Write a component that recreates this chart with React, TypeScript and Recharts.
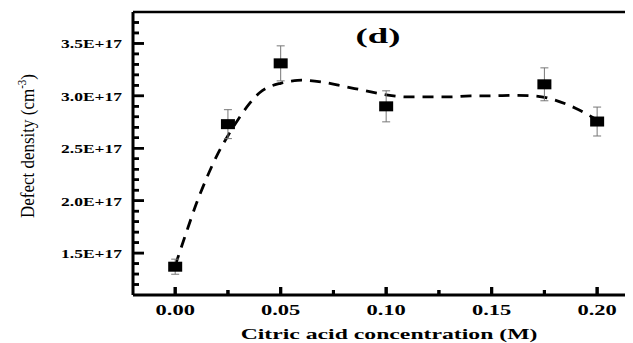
import React from 'react';
import {
  ComposedChart,
  Line,
  Scatter,
  ErrorBar,
  XAxis,
  YAxis,
  ReferenceLine,
} from 'recharts';

// values are in units of 1E+17 cm^-3
const concentrations = [0, 0.025, 0.05, 0.1, 0.175, 0.2];
const defectDensity = [1.37, 2.73, 3.31, 2.9, 3.11, 2.755];
const defectError = [0.072, 0.138, 0.167, 0.148, 0.157, 0.138];

// dashed guide curve
const curveX = [
  0, 0.005, 0.01, 0.015, 0.02, 0.025, 0.03, 0.035, 0.04, 0.045, 0.05, 0.055,
  0.06, 0.07, 0.08, 0.09, 0.1, 0.11, 0.12, 0.13, 0.14, 0.15, 0.16, 0.17, 0.18,
  0.19, 0.2,
];
const curveY = [
  1.38, 1.68, 1.97, 2.22, 2.44, 2.62, 2.78, 2.92, 3.03, 3.09, 3.12, 3.14,
  3.15, 3.13, 3.09, 3.05, 3.01, 2.99, 2.99, 2.99, 3.0, 3.0, 3.005, 3.0, 2.96,
  2.88, 2.77,
];

const xMajorTicks = [0, 0.05, 0.1, 0.15, 0.2];
const xMinorTicks = [0.025, 0.075, 0.125, 0.175];
const yMajorTicks = [1.5, 2.0, 2.5, 3.0, 3.5];
const yMinorTicks = [
  1.2, 1.3, 1.4, 1.6, 1.7, 1.8, 1.9, 2.1, 2.2, 2.3, 2.4, 2.6, 2.7, 2.8, 2.9,
  3.1, 3.2, 3.3, 3.4, 3.6, 3.7,
];

const X_DOMAIN: [number, number] = [-0.02, 0.217];
const Y_DOMAIN: [number, number] = [1.1, 3.8];
const PLOT_W = 500;
const PLOT_H = 283;

const points = concentrations.map((x, i) => ({
  x,
  y: defectDensity[i],
  err: defectError[i],
}));
const curve = curveX.map((x, i) => ({ x, y: curveY[i] }));

const FONT = '"Liberation Serif", "Times New Roman", serif';

// inward tick length, pixels -> data units
const xPx = (X_DOMAIN[1] - X_DOMAIN[0]) / PLOT_W;
const yPx = (Y_DOMAIN[1] - Y_DOMAIN[0]) / PLOT_H;

function XTick(props: any) {
  const { x, y, payload } = props;
  const major = xMajorTicks.includes(payload.value);
  return (
    <g>
      <line x1={x} x2={x} y1={y} y2={y - (major ? 8 : 5)} stroke="#000" strokeWidth={3} />
      {major && (
        <text
          transform={`translate(${x},${y + 20}) scale(1.5,1)`}
          textAnchor="middle"
          fontFamily={FONT}
          fontWeight="bold"
          fontSize={15}
          fill="#000"
        >
          {payload.value.toFixed(2)}
        </text>
      )}
    </g>
  );
}

function YTick(props: any) {
  const { x, y, payload } = props;
  const major = yMajorTicks.includes(payload.value);
  return (
    <g>
      <line x1={x} x2={x + (major ? 11 : 6)} y1={y} y2={y} stroke="#000" strokeWidth={2.5} />
      {major && (
        <text
          transform={`translate(${x - 11},${y + 5}) scale(1.4,1)`}
          textAnchor="end"
          fontFamily={FONT}
          fontWeight="bold"
          fontSize={12.5}
          fill="#000"
        >
          {`${payload.value.toFixed(1)}E+17`}
        </text>
      )}
    </g>
  );
}

function Marker(props: any) {
  const { cx, cy } = props;
  return <rect x={cx - 7} y={cy - 5} width={14} height={10} fill="#000" />;
}

export default function App() {
  return (
    <ComposedChart
      width={625}
      height={335}
      margin={{ top: 4, right: 0, bottom: 0, left: 0 }}
      style={{ background: '#fff' }}
    >
      <XAxis
        type="number"
        dataKey="x"
        domain={X_DOMAIN}
        ticks={[...xMajorTicks, ...xMinorTicks].sort((a, b) => a - b)}
        interval={0}
        height={48}
        tickSize={0}
        tickMargin={0}
        tickLine={false}
        tick={<XTick />}
        axisLine={{ stroke: '#000', strokeWidth: 3 }}
      />
      <YAxis
        type="number"
        dataKey="y"
        domain={Y_DOMAIN}
        ticks={[...yMajorTicks, ...yMinorTicks].sort((a, b) => a - b)}
        interval={0}
        width={125}
        tickSize={0}
        tickMargin={0}
        tickLine={false}
        tick={<YTick />}
        axisLine={{ stroke: '#000', strokeWidth: 3 }}
      />
      <ReferenceLine y={Y_DOMAIN[1]} stroke="#000" strokeWidth={2.5} ifOverflow="visible" />
      {[...xMajorTicks, ...xMinorTicks].map((v) => (
        <ReferenceLine
          key={`xt-${v}`}
          segment={[
            { x: v, y: Y_DOMAIN[0] },
            { x: v, y: Y_DOMAIN[0] + (xMajorTicks.includes(v) ? 8 : 5) * yPx },
          ]}
          stroke="#000"
          strokeWidth={3}
          ifOverflow="visible"
        />
      ))}
      {[...yMajorTicks, ...yMinorTicks].map((v) => (
        <ReferenceLine
          key={`yt-${v}`}
          segment={[
            { x: X_DOMAIN[0], y: v },
            { x: X_DOMAIN[0] + (yMajorTicks.includes(v) ? 11 : 6) * xPx, y: v },
          ]}
          stroke="#000"
          strokeWidth={2.5}
          ifOverflow="visible"
        />
      ))}
      <Line
        data={curve}
        dataKey="y"
        type="monotone"
        stroke="#000"
        strokeWidth={2.8}
        strokeDasharray="11 8"
        dot={false}
        activeDot={false}
        isAnimationActive={false}
      />
      <Scatter data={points} dataKey="y" shape={<Marker />} isAnimationActive={false}>
        <ErrorBar dataKey="err" direction="y" width={4} stroke="#777" strokeWidth={1} />
      </Scatter>
      <text
        transform="translate(370,35) scale(1.75,1)"
        textAnchor="middle"
        fontFamily={FONT}
        fontWeight="bold"
        fontSize={21}
        fill="#000"
      >
        (d)
      </text>
      <text
        transform="translate(381,331) scale(1.58,1)"
        textAnchor="middle"
        fontFamily={FONT}
        fontWeight="bold"
        fontSize={15}
        fill="#000"
      >
        Citric acid concentration (M)
      </text>
      <text
        transform="translate(26,138) rotate(-90) scale(1,1.15)"
        textAnchor="middle"
        fontFamily={FONT}
        fontSize={17}
        fill="#000"
      >
        Defect density (cm
        <tspan dy={-7} fontSize={11}>-3</tspan>
        <tspan dy={7}>)</tspan>
      </text>
    </ComposedChart>
  );
}
